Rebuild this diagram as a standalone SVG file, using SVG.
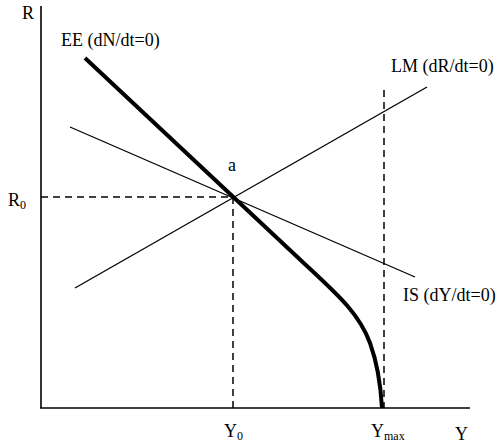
<svg xmlns="http://www.w3.org/2000/svg" width="500" height="445" viewBox="0 0 500 445">
<style>
text{font-family:"Liberation Serif","Times New Roman",serif;font-size:18px;fill:#000}
.sub{font-size:12px}
.ax{stroke:#000;stroke-width:1.6;fill:none}
.thin{stroke:#000;stroke-width:1.3;fill:none}
.thick{stroke:#000;stroke-width:4;fill:none}
.dash{stroke:#000;stroke-width:1.5;fill:none;stroke-dasharray:7 5}
</style>
<rect width="500" height="445" fill="#fff"/>
<g id="axes">
<line class="ax" x1="41" y1="6" x2="41" y2="408"/>
<line class="ax" x1="40" y1="408" x2="470" y2="408"/>
<text x="22" y="19">R</text>
<text x="455" y="440">Y</text>
</g>
<g id="connectors">
<line class="dash" x1="41" y1="197" x2="233" y2="197"/>
<line class="dash" x1="233" y1="197" x2="233" y2="408"/>
<line class="dash" x1="384" y1="90" x2="384" y2="408"/>
</g>
<g id="LM">
<line class="thin" x1="75" y1="288" x2="427" y2="87"/>
<text x="391" y="72">LM (dR/dt=0)</text>
</g>
<g id="IS">
<line class="thin" x1="70" y1="127" x2="415" y2="277"/>
<text x="403" y="301">IS (dY/dt=0)</text>
</g>
<g id="EE">
<path class="thick" d="M85,58 L292,252 C332,290 358,310 370,343 C378,365 381,390 382,408"/>
<text x="61" y="46">EE (dN/dt=0)</text>
</g>
<g id="a">
<text x="228" y="171">a</text>
</g>
<g id="R0">
<text x="8" y="206">R<tspan class="sub" dy="3">0</tspan></text>
</g>
<g id="Y0">
<text x="224" y="437">Y<tspan class="sub" dy="3">0</tspan></text>
</g>
<g id="Ymax">
<text x="371" y="437">Y<tspan class="sub" dy="3">max</tspan></text>
</g>
</svg>
